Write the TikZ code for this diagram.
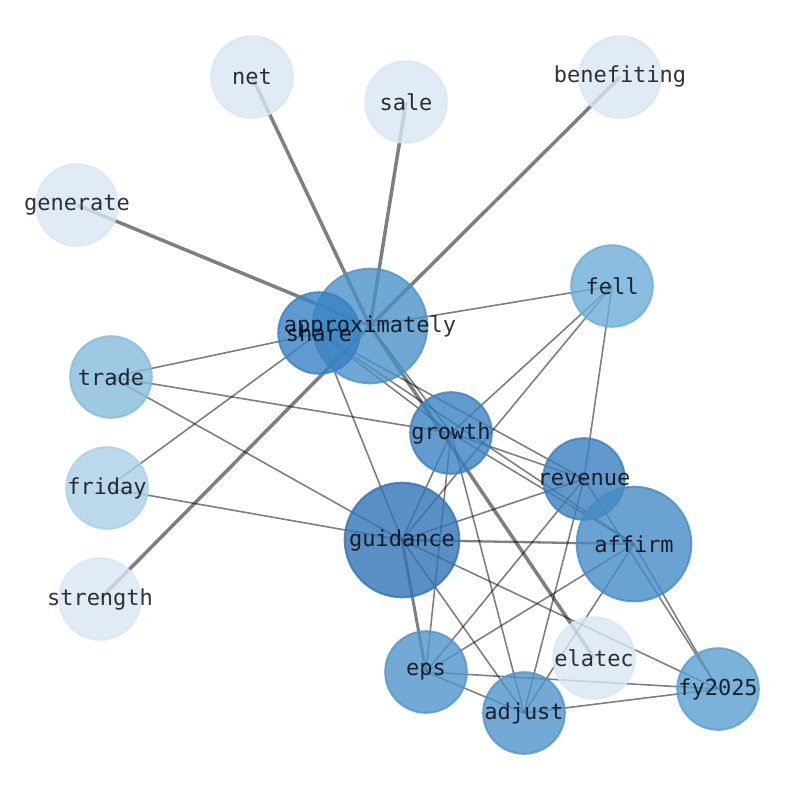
\documentclass[tikz,border=0pt]{standalone}
\usepackage{fontspec}
\newfontfamily\labfont{DejaVu Sans Mono}
\definecolor{cL}{RGB}{216,230,244}
\definecolor{cFri}{RGB}{171,208,230}
\definecolor{cTra}{RGB}{134,188,219}
\definecolor{cFel}{RGB}{108,174,216}
\definecolor{cFy}{RGB}{89,159,209}
\definecolor{cEps}{RGB}{80,149,202}
\definecolor{cApp}{RGB}{76,146,201}
\definecolor{cAff}{RGB}{69,140,197}
\definecolor{cGro}{RGB}{59,130,193}
\definecolor{cRev}{RGB}{58,128,191}
\definecolor{cSha}{RGB}{55,130,196}
\definecolor{cGui}{RGB}{49,115,181}
\tikzset{
  edge/.style={draw=black, draw opacity=0.5, line width=1.6pt},
  heavyedge/.style={edge, line width=3.5pt},
  smallnode/.style={circle, minimum size=81.6pt, inner sep=0pt, fill opacity=0.8, draw opacity=0.8, line width=2pt},
  bignode/.style={smallnode, minimum size=114.6pt},
  lab/.style={font={\labfont\fontsize{22}{26}\selectfont}, text=black, text opacity=0.8, inner sep=0pt}
}
\begin{document}
\begin{tikzpicture}[x=1pt, y=-1pt]
\useasboundingbox (0,0) rectangle (794,790);
% positions
\coordinate (net) at (252,77);
\coordinate (sale) at (406,102);
\coordinate (benefiting) at (620,77);
\coordinate (generate) at (77,205);
\coordinate (fell) at (612,286);
\coordinate (approximately) at (370,326);
\coordinate (share) at (319,333);
\coordinate (trade) at (111,377);
\coordinate (growth) at (451,433);
\coordinate (friday) at (107,488);
\coordinate (revenue) at (584,479);
\coordinate (guidance) at (402,540);
\coordinate (affirm) at (634,544);
\coordinate (strength) at (100,599);
\coordinate (elatec) at (594,658);
\coordinate (eps) at (426,672);
\coordinate (fy2025) at (718,689);
\coordinate (adjust) at (524,713);
% edges
\draw[heavyedge] (approximately) -- (net);
\draw[heavyedge] (approximately) -- (sale);
\draw[heavyedge] (approximately) -- (benefiting);
\draw[heavyedge] (approximately) -- (generate);
\draw[heavyedge] (approximately) -- (strength);
\draw[heavyedge] (approximately) -- (elatec);
\draw[edge, line width=3pt] (guidance) -- (eps);
\draw[edge, line width=2.3pt] (guidance) -- (affirm);
\draw[edge] (approximately) -- (fell);
\draw[edge] (approximately) -- (growth);
\draw[edge] (share) -- (trade);
\draw[edge] (share) -- (friday);
\draw[edge] (share) -- (guidance);
\draw[edge] (share) -- (growth);
\draw[edge] (share) -- (revenue);
\draw[edge] (share) -- (affirm);
\draw[edge] (trade) -- (growth);
\draw[edge] (trade) -- (guidance);
\draw[edge] (friday) -- (guidance);
\draw[edge] (fell) -- (growth);
\draw[edge] (fell) -- (guidance);
\draw[edge] (fell) -- (revenue);
\draw[edge] (growth) -- (guidance);
\draw[edge] (growth) -- (eps);
\draw[edge] (growth) -- (adjust);
\draw[edge] (growth) -- (revenue);
\draw[edge] (growth) -- (affirm);
\draw[edge] (revenue) -- (guidance);
\draw[edge] (revenue) -- (eps);
\draw[edge] (revenue) -- (adjust);
\draw[edge] (revenue) -- (fy2025);
\draw[edge] (affirm) -- (eps);
\draw[edge] (affirm) -- (adjust);
\draw[edge] (affirm) -- (fy2025);
\draw[edge] (guidance) -- (fy2025);
\draw[edge] (guidance) -- (adjust);
\draw[edge] (eps) -- (adjust);
\draw[edge] (eps) -- (fy2025);
\draw[edge] (adjust) -- (fy2025);
% node circles
\node[smallnode, fill=cL, draw=cL] (net-c) at (net) {};
\node[smallnode, fill=cL, draw=cL] (sale-c) at (sale) {};
\node[smallnode, fill=cL, draw=cL] (benefiting-c) at (benefiting) {};
\node[smallnode, fill=cL, draw=cL] (generate-c) at (generate) {};
\node[smallnode, fill=cFel, draw=cFel] (fell-c) at (fell) {};
\node[bignode, fill=cApp, draw=cApp] (approximately-c) at (approximately) {};
\node[smallnode, fill=cSha, draw=cSha] (share-c) at (share) {};
\node[smallnode, fill=cTra, draw=cTra] (trade-c) at (trade) {};
\node[smallnode, fill=cGro, draw=cGro] (growth-c) at (growth) {};
\node[smallnode, fill=cFri, draw=cFri] (friday-c) at (friday) {};
\node[smallnode, fill=cRev, draw=cRev] (revenue-c) at (revenue) {};
\node[bignode, fill=cGui, draw=cGui] (guidance-c) at (guidance) {};
\node[bignode, fill=cAff, draw=cAff] (affirm-c) at (affirm) {};
\node[smallnode, fill=cL, draw=cL] (strength-c) at (strength) {};
\node[smallnode, fill=cL, draw=cL] (elatec-c) at (elatec) {};
\node[smallnode, fill=cEps, draw=cEps] (eps-c) at (eps) {};
\node[smallnode, fill=cFy, draw=cFy] (fy2025-c) at (fy2025) {};
\node[smallnode, fill=cEps, draw=cEps] (adjust-c) at (adjust) {};
% labels
\node[lab] (net-l) at (net) {net};
\node[lab] (sale-l) at (sale) {sale};
\node[lab] (benefiting-l) at (benefiting) {benefiting};
\node[lab] (generate-l) at (generate) {generate};
\node[lab] (fell-l) at (fell) {fell};
\node[lab] (approximately-l) at (approximately) {approximately};
\node[lab] (share-l) at (share) {share};
\node[lab] (trade-l) at (trade) {trade};
\node[lab] (growth-l) at (growth) {growth};
\node[lab] (friday-l) at (friday) {friday};
\node[lab] (revenue-l) at (revenue) {revenue};
\node[lab] (guidance-l) at (guidance) {guidance};
\node[lab] (affirm-l) at (affirm) {affirm};
\node[lab] (strength-l) at (strength) {strength};
\node[lab] (elatec-l) at (elatec) {elatec};
\node[lab] (eps-l) at (eps) {eps};
\node[lab] (fy2025-l) at (fy2025) {fy2025};
\node[lab] (adjust-l) at (adjust) {adjust};
\end{tikzpicture}
\end{document}
